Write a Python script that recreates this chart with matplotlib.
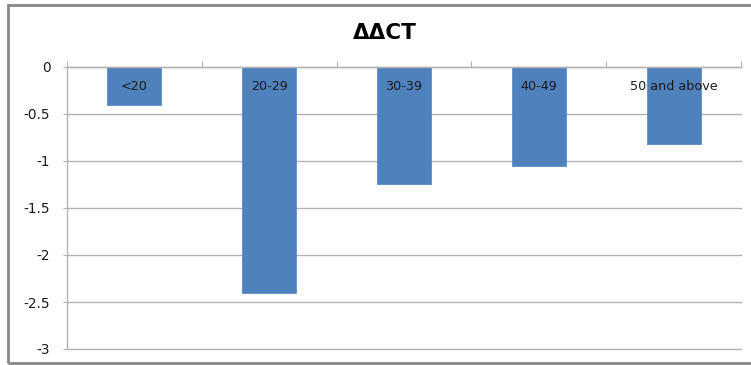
import matplotlib.pyplot as plt
from matplotlib.patches import Rectangle
from matplotlib.ticker import FuncFormatter

plt.rcParams['font.family'] = ['DejaVu Sans']

# 数据
categories = ['<20', '20-29', '30-39', '40-49', '50 and above']
ddct = [-0.4, -2.4, -1.25, -1.05, -0.82]
yticks = [0, -0.5, -1, -1.5, -2, -2.5, -3]

BAR_COLOR = '#4F81BD'
GRID_COLOR = '#B3B3B3'

fig = plt.figure(figsize=(7.51, 3.65), dpi=100)
ax = fig.add_axes([67 / 751, 1 - 349 / 365, (741 - 67) / 751, (349 - 67) / 365])

x = list(range(len(categories)))
ax.bar(x, ddct, width=0.4, color=BAR_COLOR, edgecolor='#5B8CC6', linewidth=0.6, zorder=3)

# 类别标签放在 0 线下方
for xi, lab in zip(x, categories):
    ax.text(xi, -0.205, lab, ha='center', va='center', fontsize=9.2, color='#1a1a1a', zorder=4)

ax.set_xlim(-0.5, len(categories) - 0.5)
ax.set_ylim(-3, 0)
ax.set_yticks(yticks)
ax.yaxis.set_major_formatter(FuncFormatter(lambda v, p: f'{v:g}'.replace('\u2212', '-')))
ax.tick_params(axis='y', length=3, color=GRID_COLOR, pad=9, labelsize=9.8, labelcolor='#1a1a1a')

# x 轴在顶部, 刻度在类别边界
ax.xaxis.tick_top()
ax.set_xticks([i + 0.5 for i in range(-1, len(categories))])
ax.set_xticklabels([])
ax.tick_params(axis='x', length=4, color=GRID_COLOR, direction='out')

ax.grid(axis='y', color=GRID_COLOR, linewidth=1, zorder=0)
for gl in ax.get_ygridlines():
    gl.set_clip_on(False)
for s in ['right', 'bottom']:
    ax.spines[s].set_visible(False)
for s in ['left', 'top']:
    ax.spines[s].set_color(GRID_COLOR)
    ax.spines[s].set_linewidth(1)
    ax.spines[s].set_zorder(5)

fig.text(385 / 751, 1 - 33 / 365, '\u0394\u0394CT', ha='center', va='center',
         fontsize=15.5, fontweight='bold', color='#000000')

# 外框
fig.patches.append(Rectangle((8 / 751, 2 / 365), 1.0, 358 / 365, transform=fig.transFigure,
                             fill=False, edgecolor='#878787', linewidth=2))

fig.savefig('out.png', dpi=100)
